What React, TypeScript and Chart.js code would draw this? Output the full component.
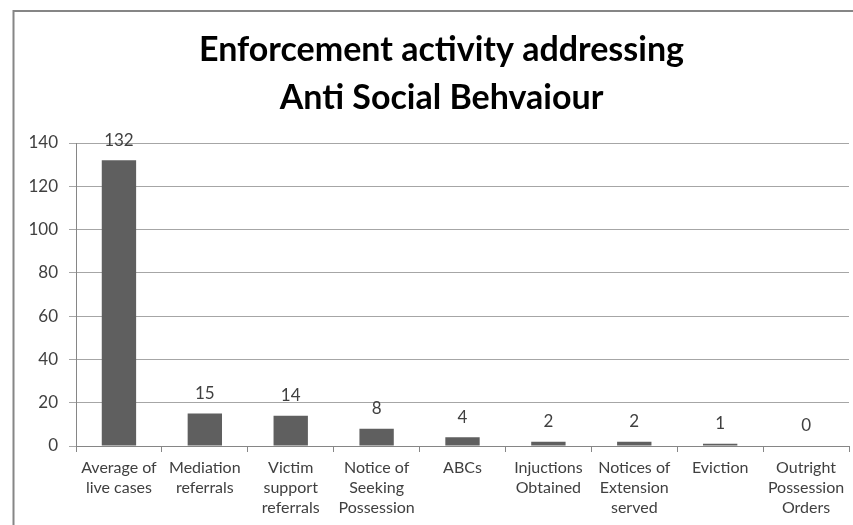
import React, { useEffect, useRef } from "react";
import { Chart, registerables } from "chart.js";

Chart.register(...registerables);

const categories: string[][] = [
  ["Average of", "live cases"],
  ["Mediation", "referrals"],
  ["Victim", "support", "referrals"],
  ["Notice of", "Seeking", "Possession"],
  ["ABCs"],
  ["Injuctions", "Obtained"],
  ["Notices of", "Extension", "served"],
  ["Eviction"],
  ["Outright", "Possession", "Orders"],
];
const values: number[] = [132, 15, 14, 8, 4, 2, 2, 1, 0];
const titleLines: string[] = ["Enforcement activity addressing", "Anti Social Behvaiour"];
const yMin = 0;
const yMax = 140;
const yStep = 20;

const FONT = "Lato, 'DejaVu Sans', sans-serif";

const frame = {
  id: "frame",
  beforeDraw(chart: any) {
    const ctx = chart.ctx;
    ctx.save();
    ctx.fillStyle = "#ffffff";
    ctx.fillRect(0, 0, chart.width, chart.height);
    ctx.strokeStyle = "#868686";
    ctx.lineWidth = 2;
    ctx.beginPath();
    ctx.moveTo(13.5, chart.height);
    ctx.lineTo(13.5, 11);
    ctx.lineTo(chart.width, 11);
    ctx.stroke();
    // title, centred on the full chart frame
    ctx.fillStyle = "#000000";
    ctx.font = `bold 34px ${FONT}`;
    ctx.textAlign = "center";
    ctx.textBaseline = "middle";
    titleLines.forEach((line, i) => {
      ctx.fillText(line, 441.5, 50.5 + i * 48);
    });
    ctx.restore();
  },
};

const valueLabels = {
  id: "valueLabels",
  afterDatasetsDraw(chart: any) {
    const ctx = chart.ctx;
    const meta = chart.getDatasetMeta(0);
    ctx.save();
    ctx.font = `17px ${FONT}`;
    ctx.fillStyle = "#404040";
    ctx.textAlign = "center";
    ctx.textBaseline = "middle";
    meta.data.forEach((bar: any, i: number) => {
      ctx.fillText(String(values[i]), bar.x, bar.y - 20);
    });
    ctx.restore();
  },
};

export default function App() {
  const ref = useRef<HTMLCanvasElement | null>(null);
  useEffect(() => {
    if (!ref.current) return;
    const chart = new Chart(ref.current, {
      type: "bar",
      data: {
        labels: categories,
        datasets: [
          {
            data: values,
            backgroundColor: "#5f5f5f",
            borderWidth: 0,
            categoryPercentage: 1,
            barPercentage: 0.4,
          },
        ],
      },
      options: {
        responsive: false,
        animation: false,
        layout: { padding: { left: 14, right: 4, top: 143, bottom: 0 } },
        plugins: {
          legend: { display: false },
          tooltip: { enabled: false },
          title: { display: false },
        },
        scales: {
          x: {
            offset: true,
            grid: {
              offset: true,
              drawOnChartArea: false,
              drawTicks: true,
              tickLength: 6,
              color: "#868686",
            },
            border: { color: "#868686", width: 1 },
            ticks: {
              color: "#404040",
              font: { family: FONT, size: 16, lineHeight: 1.25 },
              padding: 6,
              maxRotation: 0,
              autoSkip: false,
            },
            afterFit: (s: any) => {
              s.height = 525 - 446;
            },
          },
          y: {
            min: yMin,
            max: yMax,
            ticks: {
              stepSize: yStep,
              color: "#404040",
              font: { family: FONT, size: 17 },
              padding: 11,
            },
            grid: { color: "#a6a6a6", tickLength: 7 },
            border: { color: "#868686", width: 1 },
            afterFit: (s: any) => {
              s.width = 76 - 14;
            },
          },
        },
      },
      plugins: [frame, valueLabels],
    });
    return () => chart.destroy();
  }, []);
  return (
    <div style={{ position: "absolute", left: 0, top: 0, width: 853, height: 525 }}>
      <canvas ref={ref} width={853} height={525} />
    </div>
  );
}
